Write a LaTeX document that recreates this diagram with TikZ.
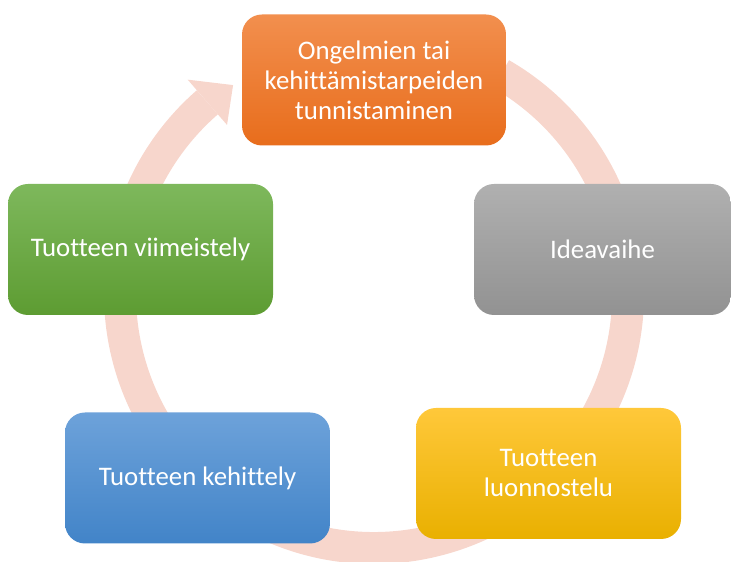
\documentclass[tikz,border=0pt]{standalone}
\usepackage{fontspec}
\setmainfont{Carlito}[Ligatures=NoCommon]
\usetikzlibrary{calc}
\definecolor{ringcol}{HTML}{F7D6CC}
\definecolor{orgT}{HTML}{F28F4E}
\definecolor{orgB}{HTML}{E86D1C}
\definecolor{grayT}{HTML}{B0B0B0}
\definecolor{grayB}{HTML}{929292}
\definecolor{grnT}{HTML}{7EB85C}
\definecolor{grnB}{HTML}{5D9C32}
\definecolor{bluT}{HTML}{6DA2DA}
\definecolor{bluB}{HTML}{4284C8}
\definecolor{yelT}{HTML}{FFC83A}
\definecolor{yelB}{HTML}{E9B000}
\tikzset{
  stepbox/.style={rounded corners=20pt, minimum height=131pt, inner sep=0pt,
    align=center, text=white, font=\fontsize{26.8}{30}\selectfont},
  ringline/.style={draw=ringcol, line width=32pt, line cap=butt}
}
\begin{document}
\begin{tikzpicture}[x=1pt,y=1pt]
\useasboundingbox (0,0) rectangle (731,562);
\coordinate (C) at (374,268);
% ring arrow
\draw[ringline] ([shift={(C)}]60:254) arc[start angle=60, end angle=-229, radius=254];
\fill[ringcol] ([shift={(C)}]131:224) -- ([shift={(C)}]124:252) -- ([shift={(C)}]131:284) -- cycle;
% boxes
\node[stepbox, minimum width=264pt, top color=orgT, bottom color=orgB] (ong) at (374,482)
  {Ongelmien tai\\kehittämistarpeiden\\tunnistaminen};
\node[stepbox, minimum width=257pt, top color=grayT, bottom color=grayB] (idea) at (602.5,312.5)
  {Ideavaihe};
\node[stepbox, minimum width=265pt, top color=yelT, bottom color=yelB] (luon) at (548.5,88.5)
  {Tuotteen\\luonnostelu};
\node[stepbox, minimum width=265pt, top color=bluT, bottom color=bluB] (keh) at (197.5,84)
  {Tuotteen kehittely};
\node[stepbox, minimum width=265pt, top color=grnT, bottom color=grnB] (viim) at (140.5,312.5)
  {Tuotteen viimeistely};
\end{tikzpicture}
\end{document}
